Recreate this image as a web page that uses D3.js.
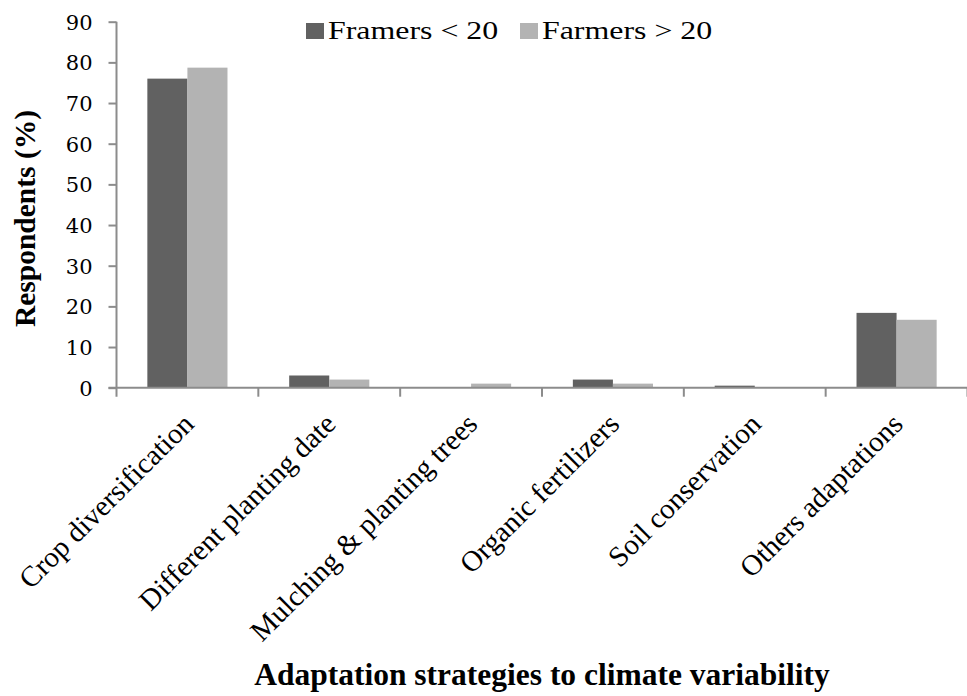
<!DOCTYPE html>
<html>
<head>
<meta charset="utf-8">
<script src="https://cdn.jsdelivr.net/npm/d3@7"></script>
<style>
  html, body { margin: 0; padding: 0; background: #fff; }
  svg { display: block; }
</style>
</head>
<body>
<svg id="chart" width="967" height="696"></svg>
<script>
// Adaptation strategies reported by respondents, by farming experience group
const categories = [
  "Crop diversification",
  "Different planting date",
  "Mulching & planting trees",
  "Organic fertilizers",
  "Soil conservation",
  "Others adaptations"
];
const seriesNames = ["Framers < 20", "Farmers > 20"];
const youngerValues = [76, 3, 0, 2, 0.5, 18.4];
const olderValues = [78.7, 2, 1, 1, 0, 16.7];
const yTicks = [0, 10, 20, 30, 40, 50, 60, 70, 80, 90];
const seriesColors = ["#616161", "#b3b3b3"];

const rows = categories.map((c, i) => ({
  category: c,
  values: [youngerValues[i], olderValues[i]]
}));

const svg = d3.select("#chart");
const axisColor = "#8c8c8c";
const plotLeft = 116.5, plotRight = 967.5, plotTop = 21.7, plotBottom = 387.7;

const y = d3.scaleLinear().domain([0, 90]).range([plotBottom, plotTop]);
const x0 = d3.scaleBand().domain(categories).range([plotLeft, plotRight]).paddingInner(0).paddingOuter(0);
const x1 = d3.scaleBand().domain(seriesNames).range([0, x0.bandwidth()])
  .paddingInner(0).paddingOuter(0.77);

// Bars
const groups = svg.append("g").selectAll("g")
  .data(rows).join("g")
  .attr("transform", d => `translate(${x0(d.category)},0)`);

groups.selectAll("rect")
  .data(d => d.values.map((v, i) => ({ name: seriesNames[i], value: v, color: seriesColors[i] })))
  .join("rect")
  .attr("x", d => x1(d.name))
  .attr("width", x1.bandwidth())
  .attr("y", d => y(d.value))
  .attr("height", d => plotBottom - y(d.value))
  .attr("fill", d => d.color);

// Y axis
const yAxis = svg.append("g")
  .attr("transform", `translate(${plotLeft},0)`)
  .call(d3.axisLeft(y).tickValues(yTicks).tickSize(8).tickPadding(16).tickSizeOuter(0));
yAxis.select(".domain").remove();
yAxis.append("line")
  .attr("x1", 0).attr("x2", 0).attr("y1", plotTop).attr("y2", plotBottom + 9)
  .attr("stroke", axisColor).attr("stroke-width", 2);
yAxis.selectAll(".tick line").attr("stroke", axisColor).attr("stroke-width", 2);
yAxis.selectAll(".tick text")
  .attr("fill", "#000")
  .style("font-family", "'DejaVu Serif', serif")
  .style("font-size", "21px")
  .attr("dy", "0.36em");

// X axis: ticks sit on the category boundaries
const boundaries = categories.map(c => x0(c)).slice(1).concat([plotRight]);
svg.append("line")
  .attr("x1", plotLeft - 8).attr("x2", plotRight).attr("y1", plotBottom).attr("y2", plotBottom)
  .attr("stroke", axisColor).attr("stroke-width", 2);
svg.append("g").selectAll("line")
  .data(boundaries).join("line")
  .attr("x1", d => d).attr("x2", d => d)
  .attr("y1", plotBottom).attr("y2", plotBottom + 9)
  .attr("stroke", axisColor).attr("stroke-width", 2);

// Category labels, rotated
svg.append("g").selectAll("text")
  .data(categories).join("text")
  .attr("transform", d => `translate(${x0(d) + x0.bandwidth() / 2 + 8},${plotBottom + 38}) rotate(-45)`)
  .attr("text-anchor", "end")
  .style("font-family", "'Liberation Serif', 'Times New Roman', serif")
  .style("font-size", "29px")
  .text(d => d);

// Axis titles
svg.append("text")
  .attr("x", (plotLeft + plotRight) / 2)
  .attr("y", 685)
  .attr("text-anchor", "middle")
  .style("font-family", "'Liberation Serif', 'Times New Roman', serif")
  .style("font-size", "31.5px")
  .style("font-weight", "bold")
  .text("Adaptation strategies to climate variability");

svg.append("text")
  .attr("transform", `translate(35,218.5) rotate(-90)`)
  .attr("text-anchor", "middle")
  .style("font-family", "'Liberation Serif', 'Times New Roman', serif")
  .style("font-size", "29.5px")
  .style("font-weight", "bold")
  .text("Respondents (%)");

// Legend
const legendItems = [
  { name: seriesNames[0], color: seriesColors[0], x: 306 },
  { name: seriesNames[1], color: seriesColors[1], x: 520 }
];
const legend = svg.append("g").selectAll("g")
  .data(legendItems).join("g")
  .attr("transform", d => `translate(${d.x},23)`);
legend.append("rect")
  .attr("width", 18).attr("height", 16)
  .attr("fill", d => d.color);
legend.append("text")
  .attr("transform", "translate(22,16) scale(1.25,1)")
  .style("font-family", "'Liberation Serif', 'Times New Roman', serif")
  .style("font-size", "25.5px")
  .text(d => d.name);
</script>
</body>
</html>
